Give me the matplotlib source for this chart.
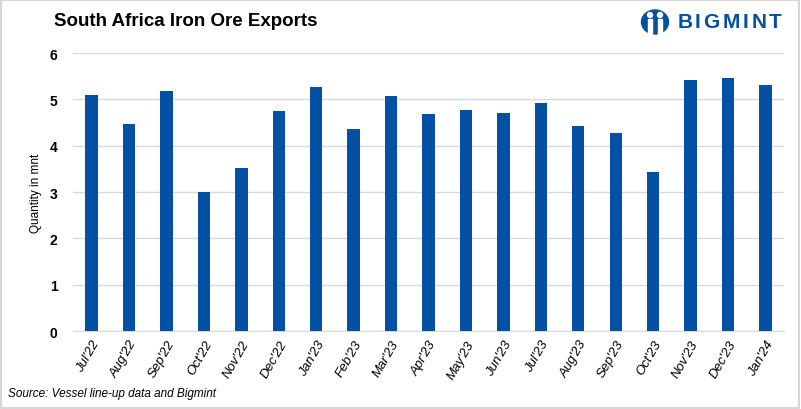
import matplotlib.pyplot as plt
import matplotlib.patches as mpatches
import numpy as np

months = ["Jul'22", "Aug'22", "Sep'22", "Oct'22", "Nov'22", "Dec'22", "Jan'23",
          "Feb'23", "Mar'23", "Apr'23", "May'23", "Jun'23", "Jul'23", "Aug'23",
          "Sep'23", "Oct'23", "Nov'23", "Dec'23", "Jan'24"]
exports = [5.10, 4.47, 5.18, 3.00, 3.52, 4.75, 5.27, 4.36, 5.08, 4.69,
           4.77, 4.71, 4.92, 4.43, 4.28, 3.44, 5.42, 5.46, 5.31]
yticks = [0, 1, 2, 3, 4, 5, 6]

blue = '#0450A4'
plt.rcParams['font.family'] = ['Liberation Sans', 'DejaVu Sans']

fig = plt.figure(figsize=(8.01, 4.10), dpi=100)
ax = fig.add_axes([0.091, 0.19, 0.888, 0.678])

x = np.arange(len(months))
ax.bar(x, exports, width=0.33, color=blue, zorder=3)
ax.set_xlim(-0.5, len(months) - 0.5)
ax.set_ylim(0, 6)
ax.set_yticks(yticks)
ax.set_yticklabels([str(t) for t in yticks], fontsize=10, fontweight='bold')
ax.yaxis.grid(True, color='#d9d9d9', lw=1, zorder=0)
ax.set_xticks(x)
ax.set_xticklabels(months, rotation=60, ha='right', rotation_mode='anchor',
                   fontsize=9.5, style='italic')
ax.tick_params(length=0, pad=5)
ax.tick_params(axis='y', pad=11)
for s in ['top', 'right', 'left']:
    ax.spines[s].set_visible(False)
ax.spines['bottom'].set_color('#d9d9d9')
ax.set_ylabel('Quantity in mnt', fontsize=8.5, labelpad=6)

fig.text(0.068, 0.947, 'South Africa Iron Ore Exports', fontsize=13.5,
         fontweight='bold', va='center')
fig.text(0.01, 0.038, 'Source: Vessel line-up data and Bigmint', fontsize=8.5,
         style='italic', va='center')

# logo: blue round mark with two white figures, then spaced letters
W, H = 801, 410
def fx(px):
    return px / W
def fy(py):
    return 1 - py / H
tf = fig.transFigure
fig.patches.append(mpatches.Ellipse((fx(655), fy(23)), fx(27), 24 / H,
                                    color=blue, transform=tf))
for cx in (650, 660):
    fig.patches.append(mpatches.Ellipse((fx(cx), fy(16)), fx(5), 5 / H,
                                        color='white', transform=tf))
    fig.patches.append(mpatches.Rectangle((fx(cx - 2), fy(35)), fx(4), 15 / H,
                                          color='white', transform=tf))
logo = 'BIGMINT'
letter_x = [685, 698, 711, 731, 746, 759, 775]
for ch, lx in zip(logo, letter_x):
    fig.text(fx(lx), fy(23), ch, color=blue, fontsize=15,
             fontweight='bold', va='center', ha='center')

fig.patches.append(mpatches.Rectangle((0.001, 0.002), 0.997, 0.995, fill=False,
                                      edgecolor='#d0d0d0', lw=1.2,
                                      transform=tf))
fig.savefig('out.png', dpi=100)
